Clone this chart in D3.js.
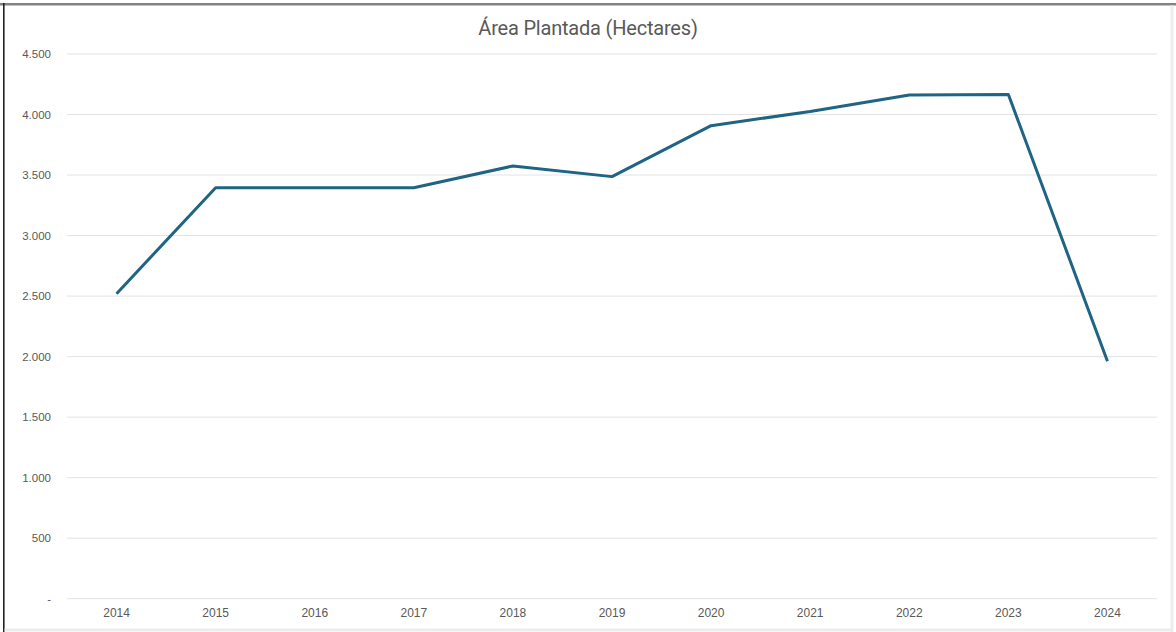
<!DOCTYPE html>
<html>
<head>
<meta charset="utf-8">
<script src="https://cdn.jsdelivr.net/npm/d3@7"></script>
<style>
html, body { margin: 0; padding: 0; background: #fff; }
svg { display: block; }
</style>
</head>
<body>
<svg id="chart" width="1176" height="632"></svg>
<script>
const years = ["2014","2015","2016","2017","2018","2019","2020","2021","2022","2023","2024"];
const area = [2520, 3395, 3395, 3395, 3575, 3487, 3908, 4025, 4162, 4166, 1962];
const yTicks = [0, 500, 1000, 1500, 2000, 2500, 3000, 3500, 4000, 4500];
const title = "Área Plantada (Hectares)";

const svg = d3.select("#chart");
const W = 1176, H = 632;
const plot = { left: 67, right: 1157, top: 54, bottom: 598.7 };

// frame
svg.append("rect").attr("x", 0).attr("y", 0).attr("width", W).attr("height", H).attr("fill", "#fff");
svg.append("rect").attr("x", 0).attr("y", 3).attr("width", W).attr("height", 2.5).attr("fill", "#838383");
svg.append("rect").attr("x", 3).attr("y", 3).attr("width", 1.6).attr("height", H - 3).attr("fill", "#222");
svg.append("rect").attr("x", 1170.5).attr("y", 5.5).attr("width", 3).attr("height", H - 5.5).attr("fill", "#ececec");
svg.append("rect").attr("x", 4.6).attr("y", 628.5).attr("width", 1168).attr("height", 3).attr("fill", "#ececec");

const x = d3.scaleBand().domain(years).range([plot.left, plot.right]);
const y = d3.scaleLinear().domain([0, 4500]).range([plot.bottom, plot.top]);

// gridlines
svg.append("g").selectAll("line").data(yTicks).join("line")
  .attr("x1", plot.left).attr("x2", plot.right)
  .attr("y1", d => y(d)).attr("y2", d => y(d))
  .attr("stroke", "#e3e3e3").attr("stroke-width", 1);

const fmt = d => d === 0 ? "-" : d3.format(",")(d).replace(/,/g, ".");

// y axis labels
const yAxis = d3.axisLeft(y).tickValues(yTicks).tickFormat(fmt).tickSize(0).tickPadding(0);
const gy = svg.append("g").attr("transform", `translate(51,0)`).call(yAxis);
gy.select(".domain").remove();
gy.selectAll("text")
  .attr("fill", "#595959")
  .style("font-family", "'Liberation Sans', Arial, sans-serif")
  .style("font-size", "11.5px");

// x axis labels
const xAxis = d3.axisBottom(x).tickSize(0).tickPadding(0);
const gx = svg.append("g").attr("transform", `translate(0,608)`).call(xAxis);
gx.select(".domain").remove();
gx.selectAll("text")
  .attr("fill", "#595959")
  .style("font-family", "'Liberation Sans', Arial, sans-serif")
  .style("font-size", "12px");

// line
const line = d3.line()
  .x((d, i) => x(years[i]) + x.bandwidth() / 2)
  .y(d => y(d));
svg.append("path").datum(area)
  .attr("d", line)
  .attr("fill", "none")
  .attr("stroke", "#1f6483")
  .attr("stroke-width", 3)
  .attr("stroke-linejoin", "round");

// title
svg.append("text")
  .attr("x", 588).attr("y", 35)
  .attr("text-anchor", "middle")
  .attr("fill", "#595959")
  .style("font-family", "Roboto, sans-serif")
  .style("font-size", "20px")
  .style("letter-spacing", "-0.2px")
  .text(title);
</script>
</body>
</html>
